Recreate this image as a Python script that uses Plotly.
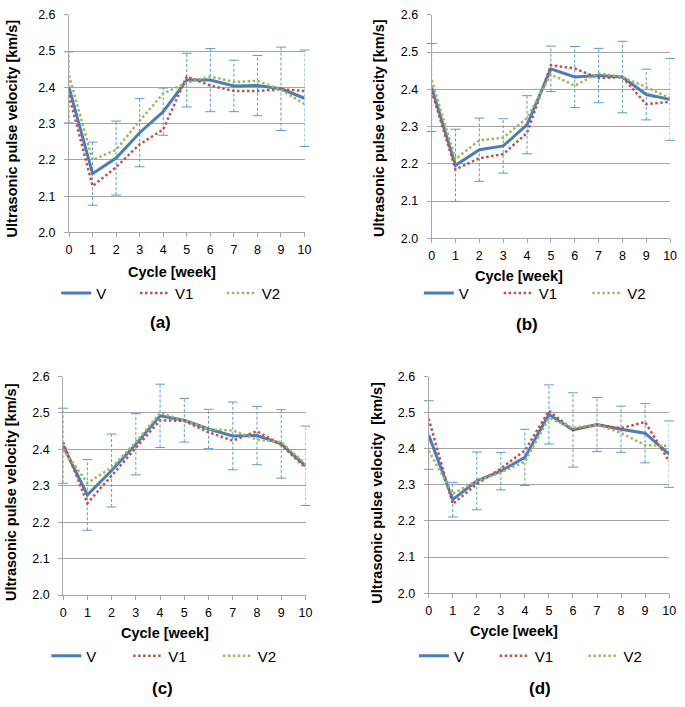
import plotly.graph_objects as go

W, H = 685, 707

weeks = list(range(11))

# Panel (a)
a_V = [2.400, 2.162, 2.205, 2.275, 2.333, 2.420, 2.420, 2.404, 2.405, 2.396, 2.370]
a_V1 = [2.378, 2.128, 2.180, 2.243, 2.284, 2.430, 2.405, 2.390, 2.390, 2.395, 2.390]
a_V2 = [2.433, 2.200, 2.228, 2.308, 2.383, 2.413, 2.430, 2.415, 2.418, 2.393, 2.354]
a_err = [0.098, 0.087, 0.102, 0.094, 0.065, 0.074, 0.087, 0.071, 0.083, 0.115, 0.133]

# Panel (b)
b_V = [2.405, 2.196, 2.238, 2.248, 2.305, 2.455, 2.433, 2.437, 2.433, 2.386, 2.373]
b_V1 = [2.395, 2.185, 2.215, 2.226, 2.283, 2.465, 2.456, 2.430, 2.433, 2.360, 2.367]
b_V2 = [2.425, 2.213, 2.263, 2.270, 2.323, 2.440, 2.410, 2.443, 2.433, 2.406, 2.376]
b_err = [0.118, 0.097, 0.085, 0.073, 0.078, 0.061, 0.082, 0.073, 0.096, 0.068, 0.110]

# Panel (c)
c_V = [2.410, 2.275, 2.342, 2.414, 2.492, 2.480, 2.456, 2.437, 2.438, 2.415, 2.355]
c_V1 = [2.420, 2.252, 2.328, 2.405, 2.480, 2.478, 2.447, 2.424, 2.450, 2.412, 2.350]
c_V2 = [2.400, 2.308, 2.350, 2.420, 2.500, 2.480, 2.455, 2.452, 2.427, 2.420, 2.360]
c_err = [0.103, 0.097, 0.100, 0.084, 0.087, 0.060, 0.054, 0.093, 0.080, 0.094, 0.109]

# Panel (d)
d_V = [2.438, 2.259, 2.311, 2.338, 2.376, 2.495, 2.452, 2.467, 2.454, 2.443, 2.385]
d_V1 = [2.483, 2.247, 2.302, 2.345, 2.395, 2.505, 2.452, 2.466, 2.457, 2.474, 2.365]
d_V2 = [2.395, 2.275, 2.311, 2.334, 2.364, 2.485, 2.458, 2.467, 2.444, 2.410, 2.408]
d_err = [0.095, 0.048, 0.080, 0.052, 0.078, 0.082, 0.103, 0.075, 0.064, 0.082, 0.092]

series_names = ["V", "V1", "V2"]
panel_labels = ["(a)", "(b)", "(c)", "(d)"]
y_titles = ["Ultrasonic pulse velocity [km/s]", "Ultrasonic pulse velocity [km/s]",
            "Ultrasonic pulse velocity [km/s]", "Ultrasonic pulse velocity  [km/s]"]
x_title = "Cycle [week]"
y_ticks = [2.0, 2.1, 2.2, 2.3, 2.4, 2.5, 2.6]

panels = [(a_V, a_V1, a_V2, a_err), (b_V, b_V1, b_V2, b_err),
          (c_V, c_V1, c_V2, c_err), (d_V, d_V1, d_V2, d_err)]

# layout geometry in pixels
plot_boxes = [(67, 306, 8, 230), (435, 677, 8, 236), (61, 307, 377, 600), (432, 676, 377, 598)]
ytitle_pos = [(9, 124), (381, 123), (8, 495), (380, 495)]
xtitle_pos = [(172, 270), (524, 274), (164, 639), (519, 637)]
label_pos = [(160, 322), (532, 324), (162, 695), (545, 695)]
legend_y = [292, 292, 662, 662]
legend_x = [[59, 139, 227], [427, 508, 598], [49, 132, 223], [422, 504, 594]]

BLUE = "#4a7ebb"
RED = "#c0504d"
GREEN = "#9bbb59"
ERR = "#5b9bd5"
GRID = "#a6a6a6"
FONT = "Liberation Sans, Arial, sans-serif"

def px(x):
    return x / W

def py(y):
    return 1 - y / H

fig = go.Figure()
layout = dict(
    width=W, height=H, margin=dict(l=0, r=0, t=0, b=0),
    paper_bgcolor="white", plot_bgcolor="white",
    font=dict(family=FONT, size=12, color="#000000"),
    annotations=[],
)

for i, (V, V1, V2, err) in enumerate(panels):
    n = "" if i == 0 else str(i + 1)
    xa, ya = "x" + n, "y" + n
    x0, x1, y0, y1 = plot_boxes[i]
    layout["xaxis" + n] = dict(
        domain=[px(x0), px(x1)], range=[0, 10], anchor=ya,
        tickmode="array", tickvals=weeks, ticktext=[str(w) for w in weeks],
        showgrid=False, zeroline=False, showline=True, linecolor=GRID, linewidth=1,
        ticks="outside", ticklen=4, tickcolor=GRID, tickwidth=1,
        tickfont=dict(size=12.5, family=FONT, color="#000"), ticklabelstandoff=2,
    )
    layout["yaxis" + n] = dict(
        domain=[py(y1), py(y0)], range=[2.0, 2.6], anchor=xa,
        tickmode="array", tickvals=y_ticks, ticktext=["%.1f" % t for t in y_ticks],
        showgrid=True, gridcolor=GRID, gridwidth=1, zeroline=False,
        showline=True, linecolor=GRID, linewidth=1,
        ticks="outside", ticklen=4, tickcolor=GRID, tickwidth=1,
        tickfont=dict(size=12.5, family=FONT, color="#000"), ticklabelstandoff=6,
    )
    # error bars (dashed) for V
    ex, ey, cx, cy = [], [], [], []
    for w, v, e in zip(weeks, V, err):
        ex += [w, w, None]
        ey += [v - e, v + e, None]
        cx += [w, w]
        cy += [v - e, v + e]
    fig.add_trace(go.Scatter(x=ex, y=ey, xaxis=xa, yaxis=ya, mode="lines",
                             line=dict(color=ERR, width=1, dash="3px,2px"),
                             showlegend=False, hoverinfo="skip", cliponaxis=False))
    fig.add_trace(go.Scatter(x=cx, y=cy, xaxis=xa, yaxis=ya, mode="markers",
                             marker=dict(symbol="line-ew", size=7,
                                         line=dict(color=ERR, width=1)),
                             showlegend=False, hoverinfo="skip", cliponaxis=False))
    styles = [dict(color=BLUE, width=3),
              dict(color=RED, width=2.5, dash="2.5px,2.5px"),
              dict(color=GREEN, width=2.5, dash="2.5px,2.5px")]
    for k, (name, vals) in enumerate(zip(series_names, [V, V1, V2])):
        lg_idx = i * 3 + k + 1
        lg = "legend" if lg_idx == 1 else "legend%d" % lg_idx
        fig.add_trace(go.Scatter(x=weeks, y=vals, xaxis=xa, yaxis=ya, mode="lines",
                                 name=name, line=styles[k], legend=lg, cliponaxis=False))
        layout[lg] = dict(
            x=px(legend_x[i][k] - 5), y=py(legend_y[i]), xanchor="left", yanchor="middle",
            orientation="h", bgcolor="rgba(0,0,0,0)", borderwidth=0,
            font=dict(size=15, family=FONT, color="#000"),
            itemclick=False, itemdoubleclick=False,
        )
    # y title
    layout["annotations"].append(dict(
        text="<b>%s</b>" % y_titles[i], xref="paper", yref="paper",
        x=px(ytitle_pos[i][0]), y=py(ytitle_pos[i][1]), textangle=-90,
        showarrow=False, xanchor="center", yanchor="middle",
        font=dict(size=14.5, family=FONT, color="#000")))
    layout["annotations"].append(dict(
        text="<b>%s</b>" % x_title, xref="paper", yref="paper",
        x=px(xtitle_pos[i][0]), y=py(xtitle_pos[i][1]),
        showarrow=False, xanchor="center", yanchor="middle",
        font=dict(size=14.5, family=FONT, color="#000")))
    layout["annotations"].append(dict(
        text="<b>%s</b>" % panel_labels[i], xref="paper", yref="paper",
        x=px(label_pos[i][0]), y=py(label_pos[i][1]),
        showarrow=False, xanchor="center", yanchor="middle",
        font=dict(size=17, family=FONT, color="#000")))

fig.update_layout(**layout)
fig.write_html("out.html", config={"displayModeBar": False},
               post_script="document.body.style.margin='0';document.body.style.overflow='hidden';")
